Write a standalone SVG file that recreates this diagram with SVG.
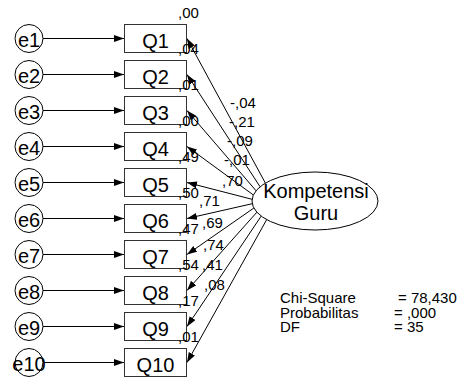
<svg xmlns="http://www.w3.org/2000/svg" width="460" height="382" viewBox="0 0 460 382">
<defs>
<marker id="ah" markerUnits="userSpaceOnUse" markerWidth="11" markerHeight="8" refX="10" refY="3.5" orient="auto">
<path d="M0,0 L10,3.5 L0,7 z" fill="#000"/>
</marker>
<style>
.box{fill:#fff;stroke:#333;stroke-width:1}
.err{fill:#fff;stroke:#000;stroke-width:1}
.lat{fill:#fff;stroke:#000;stroke-width:1}
.ln{stroke:#000;stroke-width:1;fill:none;marker-end:url(#ah)}
.big{font-family:"Liberation Sans",Arial,sans-serif;font-size:20px;fill:#000;text-anchor:middle}
.sm{font-family:"Liberation Sans",Arial,sans-serif;font-size:15px;fill:#000}
</style>
</defs>
<rect width="460" height="382" fill="#fff"/>
<g id="connectors">
<line class="ln" x1="43" y1="38.5" x2="124" y2="38.5"/>
<line class="ln" x1="43" y1="74.5" x2="124" y2="74.5"/>
<line class="ln" x1="43" y1="110.5" x2="124" y2="110.5"/>
<line class="ln" x1="43" y1="146.5" x2="124" y2="146.5"/>
<line class="ln" x1="43" y1="182.5" x2="124" y2="182.5"/>
<line class="ln" x1="43" y1="218.5" x2="124" y2="218.5"/>
<line class="ln" x1="43" y1="254.5" x2="124" y2="254.5"/>
<line class="ln" x1="43" y1="290.5" x2="124" y2="290.5"/>
<line class="ln" x1="43" y1="326.5" x2="124" y2="326.5"/>
<line class="ln" x1="43" y1="362.5" x2="124" y2="362.5"/>
<line class="ln" x1="265.4" y1="183.1" x2="187" y2="38.5"/>
<line class="ln" x1="260.1" y1="186.8" x2="187" y2="74.5"/>
<line class="ln" x1="256.1" y1="190.8" x2="187" y2="110.5"/>
<line class="ln" x1="253.4" y1="195.0" x2="187" y2="146.5"/>
<line class="ln" x1="252.1" y1="199.3" x2="187" y2="182.5"/>
<line class="ln" x1="252.3" y1="203.7" x2="187" y2="218.5"/>
<line class="ln" x1="253.9" y1="208.0" x2="187" y2="254.5"/>
<line class="ln" x1="256.9" y1="212.2" x2="187" y2="290.5"/>
<line class="ln" x1="261.2" y1="216.1" x2="187" y2="326.5"/>
<line class="ln" x1="266.7" y1="219.6" x2="187" y2="362.5"/>
</g>
<g id="e1"><circle class="err" cx="29" cy="38.5" r="14"/><text class="big" x="29" y="47">e1</text></g>
<g id="e2"><circle class="err" cx="29" cy="74.5" r="14"/><text class="big" x="29" y="83">e2</text></g>
<g id="e3"><circle class="err" cx="29" cy="110.5" r="14"/><text class="big" x="29" y="119">e3</text></g>
<g id="e4"><circle class="err" cx="29" cy="146.5" r="14"/><text class="big" x="29" y="155">e4</text></g>
<g id="e5"><circle class="err" cx="29" cy="182.5" r="14"/><text class="big" x="29" y="191">e5</text></g>
<g id="e6"><circle class="err" cx="29" cy="218.5" r="14"/><text class="big" x="29" y="227">e6</text></g>
<g id="e7"><circle class="err" cx="29" cy="254.5" r="14"/><text class="big" x="29" y="263">e7</text></g>
<g id="e8"><circle class="err" cx="29" cy="290.5" r="14"/><text class="big" x="29" y="299">e8</text></g>
<g id="e9"><circle class="err" cx="29" cy="326.5" r="14"/><text class="big" x="29" y="335">e9</text></g>
<g id="e10"><circle class="err" cx="29" cy="362.5" r="14"/><text class="big" x="29" y="371">e10</text></g>
<g id="Q1"><rect class="box" x="124.5" y="24.5" width="62" height="28"/><text class="big" x="155.5" y="47.5">Q1</text><text class="sm" x="178" y="18">,00</text></g>
<g id="Q2"><rect class="box" x="124.5" y="60.5" width="62" height="28"/><text class="big" x="155.5" y="83.5">Q2</text><text class="sm" x="178" y="54">,04</text></g>
<g id="Q3"><rect class="box" x="124.5" y="96.5" width="62" height="28"/><text class="big" x="155.5" y="119.5">Q3</text><text class="sm" x="178" y="90">,01</text></g>
<g id="Q4"><rect class="box" x="124.5" y="132.5" width="62" height="28"/><text class="big" x="155.5" y="155.5">Q4</text><text class="sm" x="178" y="126">,00</text></g>
<g id="Q5"><rect class="box" x="124.5" y="168.5" width="62" height="28"/><text class="big" x="155.5" y="191.5">Q5</text><text class="sm" x="178" y="162">,49</text></g>
<g id="Q6"><rect class="box" x="124.5" y="204.5" width="62" height="28"/><text class="big" x="155.5" y="227.5">Q6</text><text class="sm" x="178" y="198">,50</text></g>
<g id="Q7"><rect class="box" x="124.5" y="240.5" width="62" height="28"/><text class="big" x="155.5" y="263.5">Q7</text><text class="sm" x="178" y="234">,47</text></g>
<g id="Q8"><rect class="box" x="124.5" y="276.5" width="62" height="28"/><text class="big" x="155.5" y="299.5">Q8</text><text class="sm" x="178" y="270">,54</text></g>
<g id="Q9"><rect class="box" x="124.5" y="312.5" width="62" height="28"/><text class="big" x="155.5" y="335.5">Q9</text><text class="sm" x="178" y="306">,17</text></g>
<g id="Q10"><rect class="box" x="124.5" y="348.5" width="62" height="28"/><text class="big" x="155.5" y="371.5">Q10</text><text class="sm" x="178" y="342">,01</text></g>
<g id="KompetensiGuru"><ellipse class="lat" cx="315" cy="201" rx="63" ry="29"/><text class="big" x="316" y="198">Kompetensi</text><text class="big" x="316" y="220">Guru</text></g>
<g id="weights">
<text class="sm" x="230" y="108">-,04</text>
<text class="sm" x="229" y="127">-,21</text>
<text class="sm" x="227" y="146">-,09</text>
<text class="sm" x="224" y="165">-,01</text>
<text class="sm" x="222" y="186">,70</text>
<text class="sm" x="199" y="206">,71</text>
<text class="sm" x="202" y="228">,69</text>
<text class="sm" x="203" y="250">,74</text>
<text class="sm" x="202" y="270">,41</text>
<text class="sm" x="204" y="290">,08</text>
</g>
<g id="stats">
<text class="sm" x="280" y="303">Chi-Square</text>
<text class="sm" x="280" y="317.5">Probabilitas</text>
<text class="sm" x="280" y="332">DF</text>
<text class="sm" x="398" y="303">= 78,430</text>
<text class="sm" x="394" y="317.5">= ,000</text>
<text class="sm" x="394" y="332">= 35</text>
</g>
</svg>
